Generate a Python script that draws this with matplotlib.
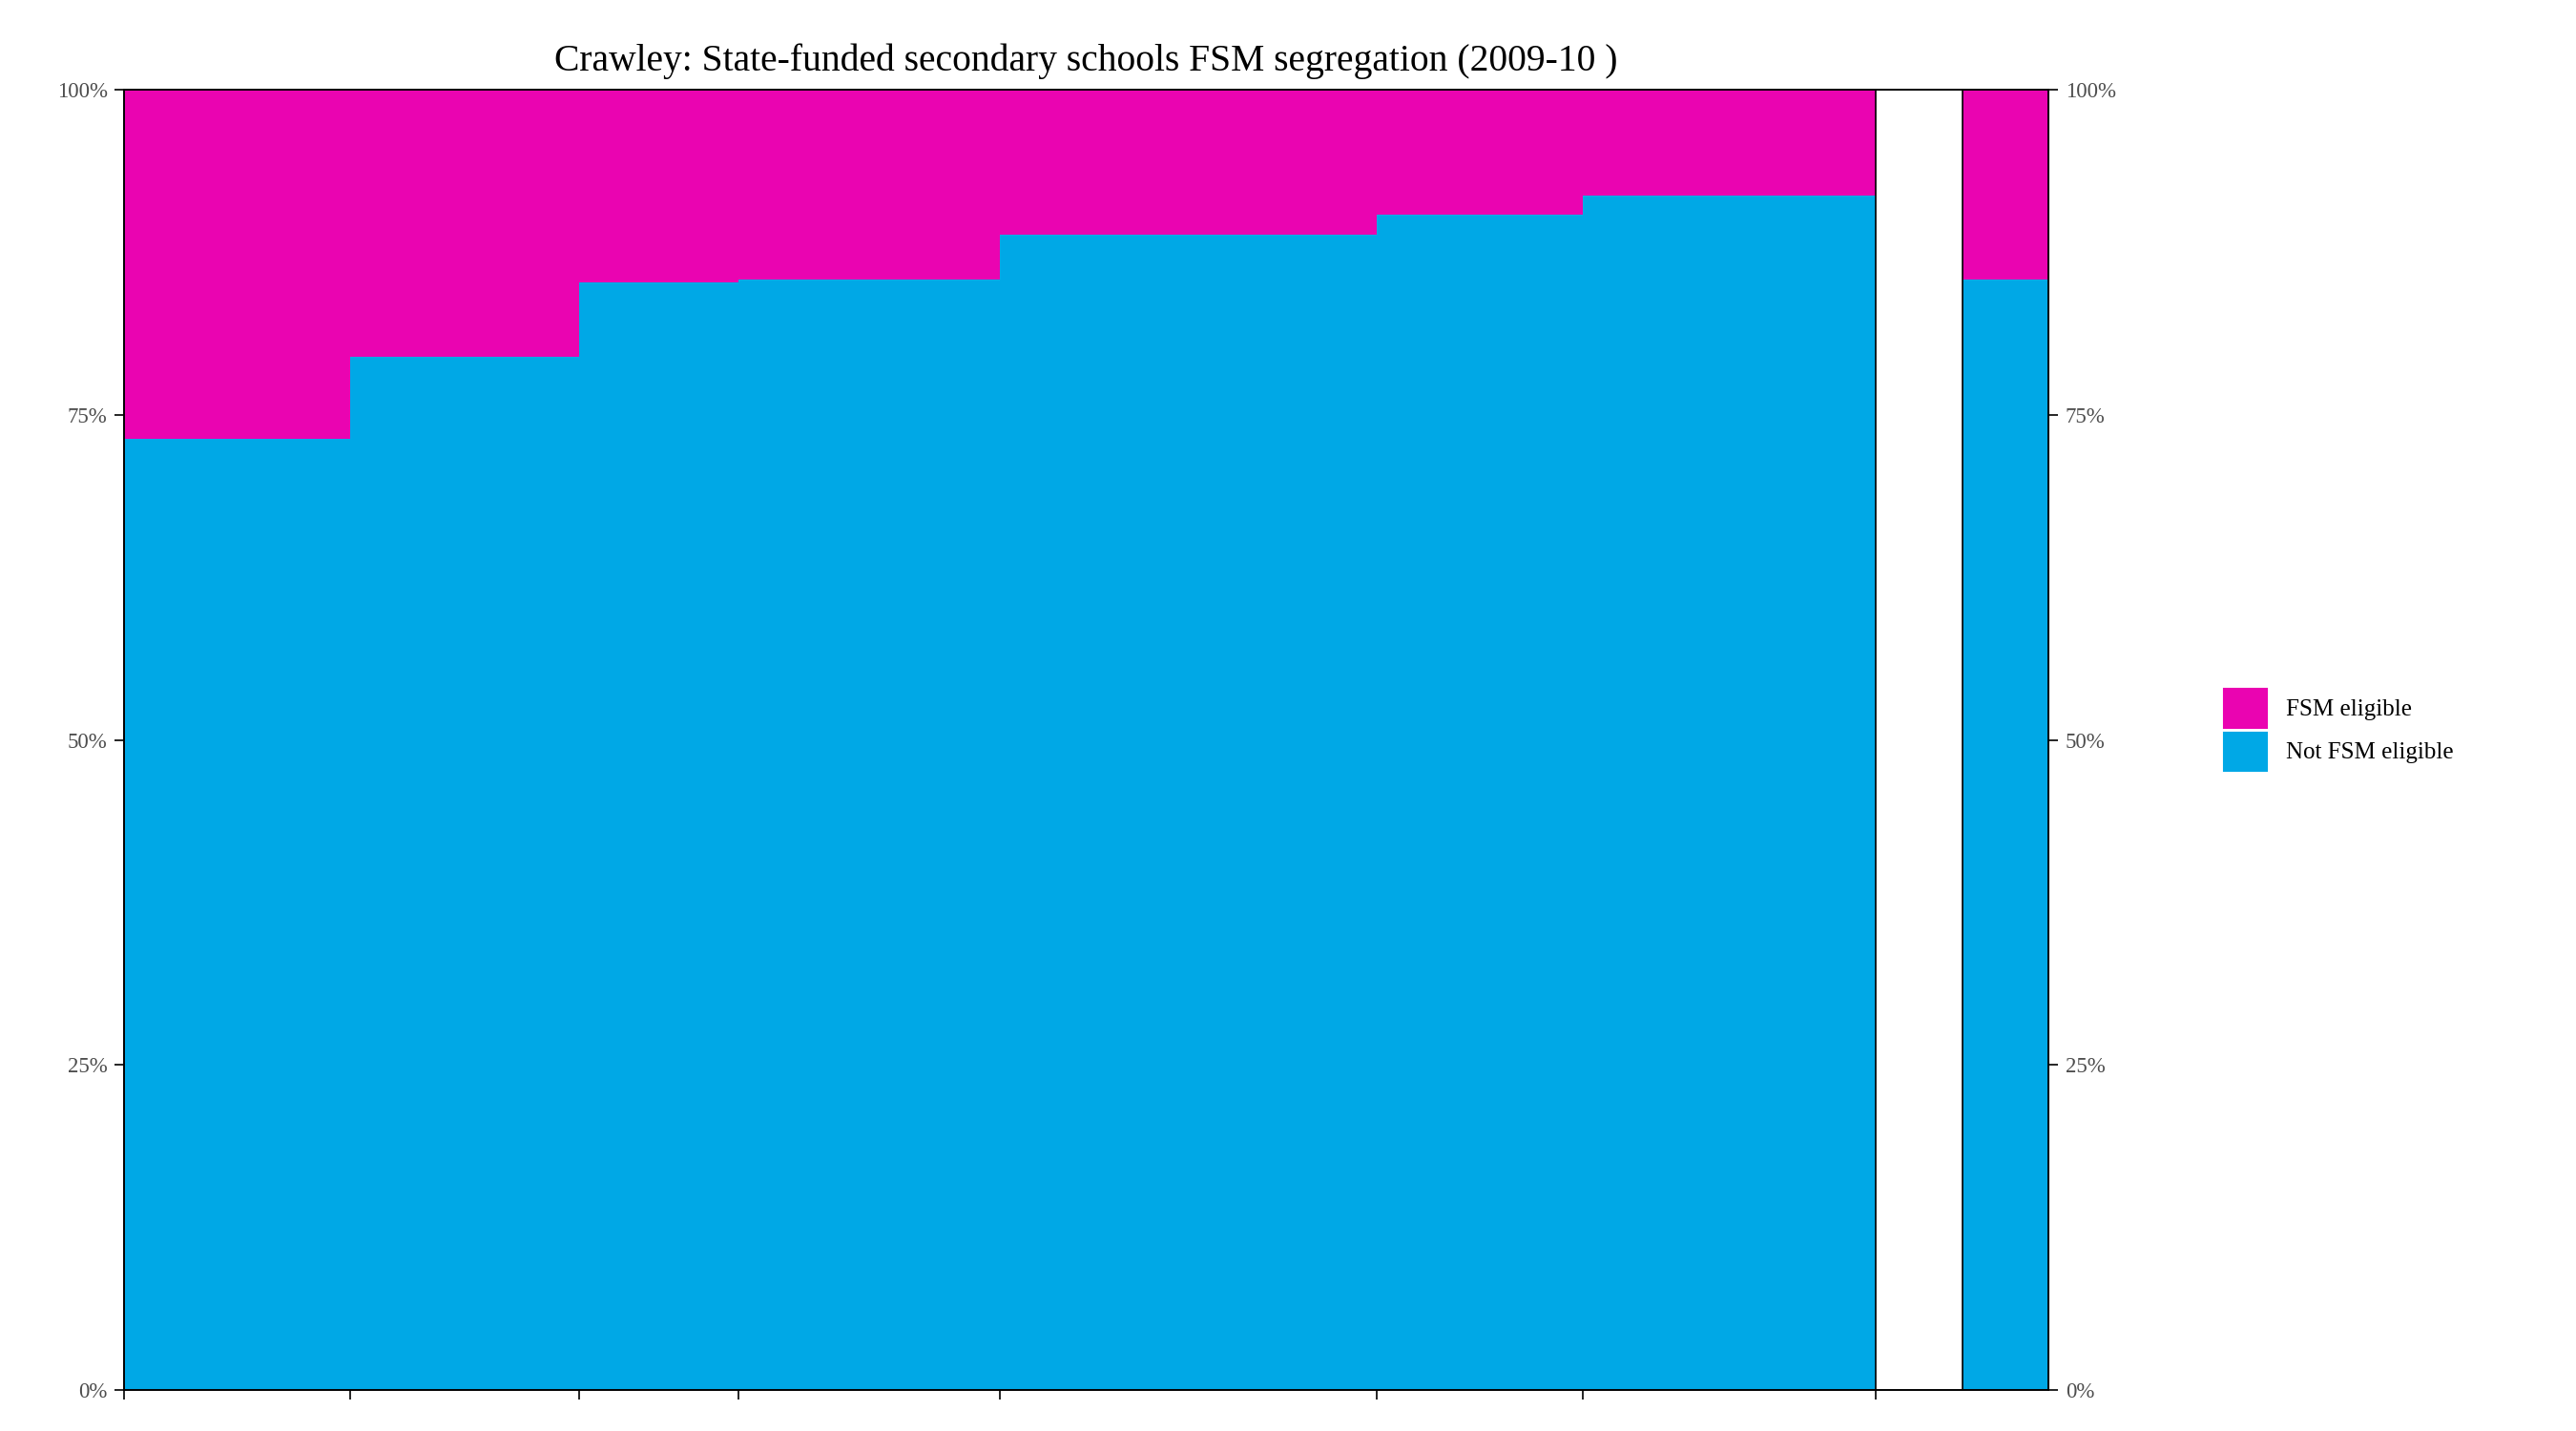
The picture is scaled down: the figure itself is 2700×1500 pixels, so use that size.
import matplotlib
matplotlib.use("Agg")
import matplotlib.pyplot as plt
from matplotlib.patches import Patch
import numpy as np

# school sizes (relative widths) and share not FSM eligible
widths = [136, 138, 96, 158, 227, 124, 177]
not_fsm = [73.2, 79.5, 85.2, 85.4, 88.9, 90.4, 91.9]
overall_width = 52
overall_not_fsm = 85.4

BLUE = "#00A8E6"
PINK = "#EA04B1"
plt.rcParams["font.family"] = ["Liberation Serif", "DejaVu Serif"]

fig = plt.figure(figsize=(18, 10), dpi=150)
ax = fig.add_axes([0.0483, 0.0286, 0.7469, 0.9085])

lefts = np.concatenate([[0], np.cumsum(widths)[:-1]])
nf = np.array(not_fsm)
ax.bar(lefts, nf, width=widths, align="edge", color=BLUE, lw=0)
ax.bar(lefts, 100 - nf, bottom=nf, width=widths, align="edge", color=PINK, lw=0)

total = sum(widths)
gap = overall_width
ox = total + gap
ax.bar(ox, overall_not_fsm, width=overall_width, align="edge", color=BLUE, lw=0)
ax.bar(ox, 100 - overall_not_fsm, bottom=overall_not_fsm, width=overall_width,
       align="edge", color=PINK, lw=0)
ax.axvline(total, color="black", lw=0.8)
ax.axvline(ox, color="black", lw=0.8)

ax.set_xlim(0, ox + overall_width)
ax.set_ylim(0, 100)
ax.set_xticks(list(np.cumsum(widths)) + [0])
ax.set_xticklabels([])
yt = [0, 25, 50, 75, 100]
ax.set_yticks(yt)
ax.set_yticklabels([f"{v}%" for v in yt])
ax.tick_params(axis="y", labelcolor="#4d4d4d", labelsize=11, length=5)
ax.tick_params(axis="x", length=5)
for s in ax.spines.values():
    s.set_linewidth(0.8)
ax2 = ax.twinx()
ax2.set_ylim(0, 100)
ax2.set_yticks(yt)
ax2.set_yticklabels([f"{v}%" for v in yt])
ax2.tick_params(axis="y", labelcolor="#4d4d4d", labelsize=11, length=5)

ax.set_title("Crawley: State-funded secondary schools FSM segregation (2009-10 )",
             fontsize=19, pad=10)

handles = [Patch(color=PINK, label="FSM eligible"), Patch(color=BLUE, label="Not FSM eligible")]
fig.legend(handles=handles, loc="center left", bbox_to_anchor=(0.855, 0.49),
           frameon=False, fontsize=12, handlelength=1.8, handleheight=2.1,
           labelspacing=0.2)

fig.savefig("out.png", dpi=150, facecolor="white")
